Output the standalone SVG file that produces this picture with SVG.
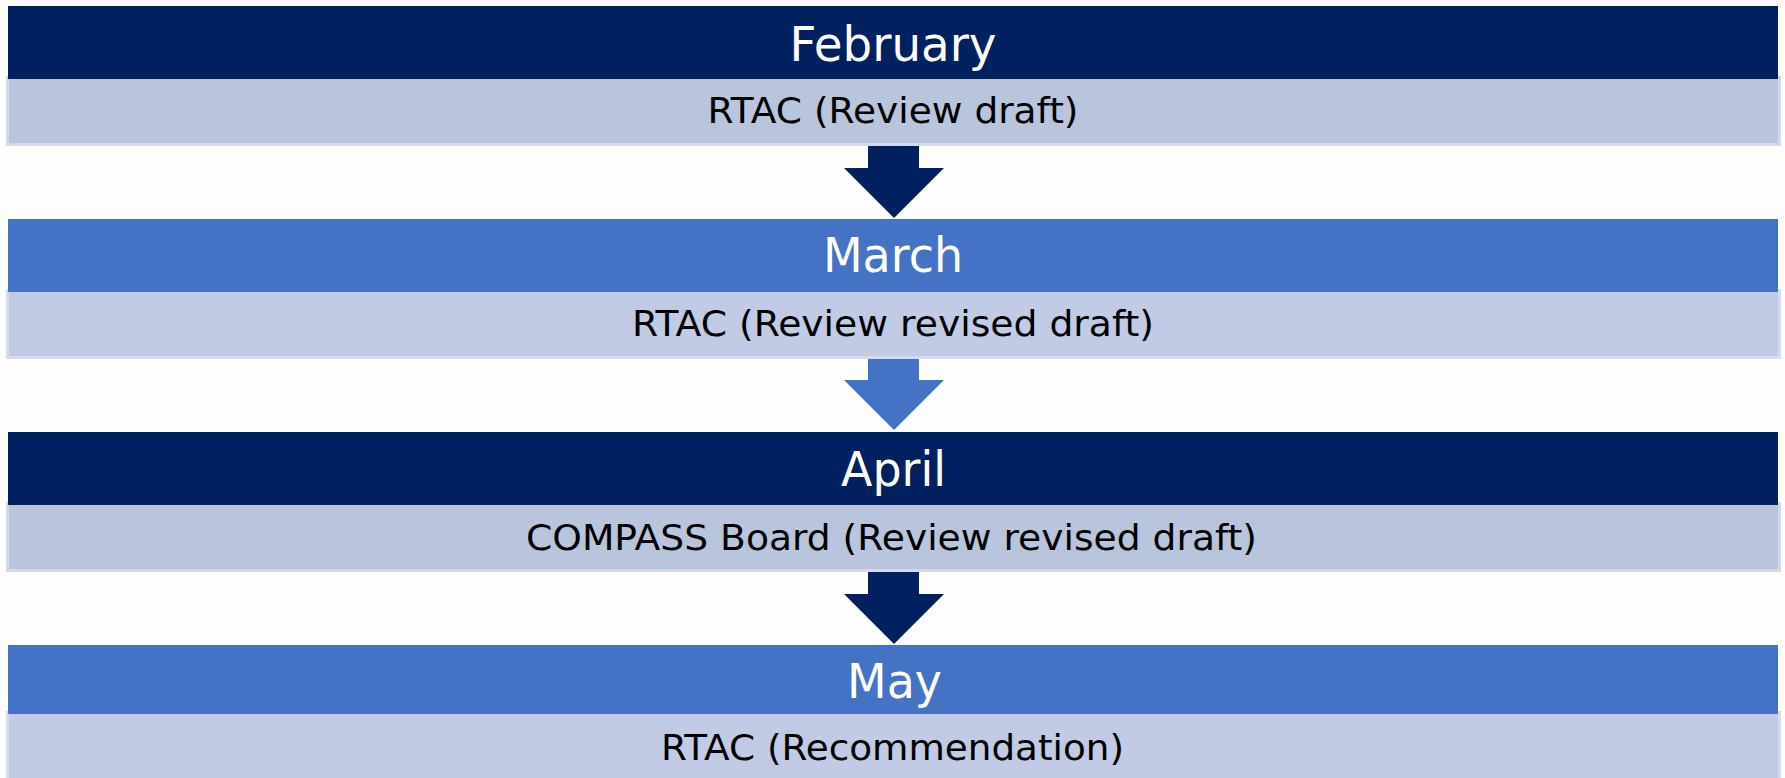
<svg xmlns="http://www.w3.org/2000/svg" width="1785" height="778" viewBox="0 0 1785 778">
<style>
.bg{fill:#FDFDFD}
.hdr-dark{fill:#002060}
.hdr-blue{fill:#4472C4}
.sub-a{fill:#B9C4DD;stroke:#D2D9EB;stroke-width:3}
.sub-b{fill:#C1CBE6;stroke:#D6DCEE;stroke-width:3}
.ht{font-family:"DejaVu Sans","Verdana",sans-serif;font-size:48px;fill:#FFFFFF;text-anchor:middle}
.st{font-family:"DejaVu Sans","Verdana",sans-serif;font-size:35px;fill:#000000;text-anchor:middle}
.arr-dark{fill:#002060}
.arr-blue{fill:#4472C4}
</style>
<rect class="bg" x="0" y="0" width="1785" height="778"/>
<g id="connectors">
<polygon class="arr-dark" points="868,140 919,140 919,168 944,168 894,218 844,168 868,168"/>
<polygon class="arr-blue" points="868,353 919,353 919,380 944,380 894,430 844,380 868,380"/>
<polygon class="arr-dark" points="868,566 919,566 919,594 944,594 894,644 844,594 868,594"/>
</g>
<g id="february">
<rect class="sub-a" x="7.5" y="77.5" width="1772" height="67"/>
<rect class="hdr-dark" x="8" y="6" width="1770" height="73"/>
<text class="ht" x="893" y="61" textLength="207" lengthAdjust="spacingAndGlyphs">February</text>
<text class="st" x="893" y="123" textLength="371" lengthAdjust="spacingAndGlyphs">RTAC (Review draft)</text>
</g>
<g id="march">
<rect class="sub-b" x="7.5" y="290.5" width="1772" height="67"/>
<rect class="hdr-blue" x="8" y="219" width="1770" height="73"/>
<text class="ht" x="893" y="272" textLength="140" lengthAdjust="spacingAndGlyphs">March</text>
<text class="st" x="893" y="336" textLength="522" lengthAdjust="spacingAndGlyphs">RTAC (Review revised draft)</text>
</g>
<g id="april">
<rect class="sub-a" x="7.5" y="503.5" width="1772" height="67"/>
<rect class="hdr-dark" x="8" y="432" width="1770" height="73"/>
<text class="ht" x="893.5" y="486" textLength="105" lengthAdjust="spacingAndGlyphs">April</text>
<text class="st" x="891.5" y="550" textLength="731" lengthAdjust="spacingAndGlyphs">COMPASS Board (Review revised draft)</text>
</g>
<g id="may">
<rect class="sub-b" x="7.5" y="712.5" width="1772" height="70"/>
<rect class="hdr-blue" x="8" y="645" width="1770" height="69"/>
<text class="ht" x="894.5" y="698" textLength="95" lengthAdjust="spacingAndGlyphs">May</text>
<text class="st" x="892.5" y="760" textLength="463" lengthAdjust="spacingAndGlyphs">RTAC (Recommendation)</text>
</g>
</svg>
